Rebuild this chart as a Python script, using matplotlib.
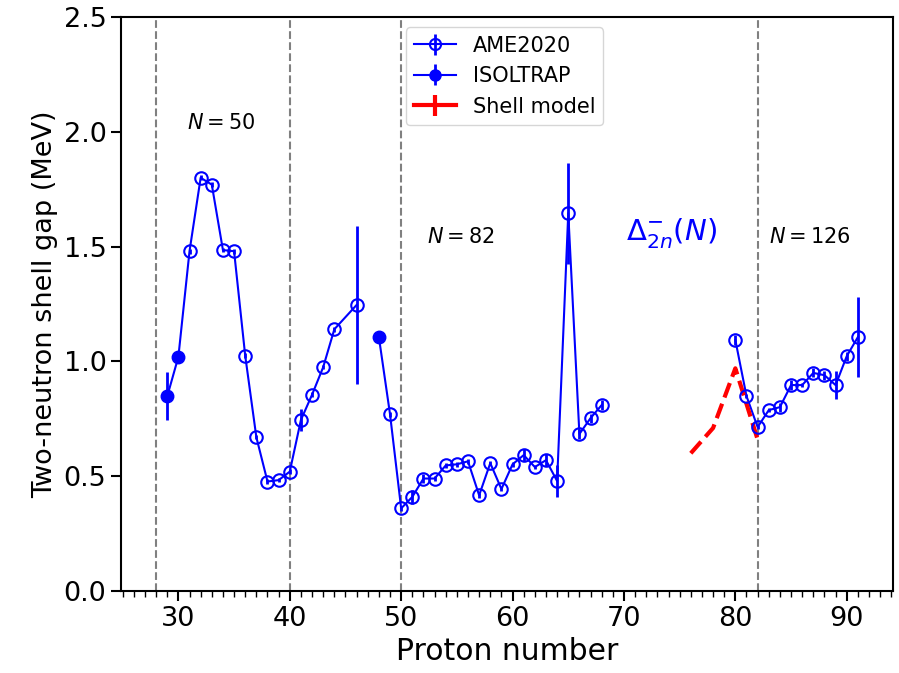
import numpy as np
import matplotlib
matplotlib.use('Agg')
import matplotlib.pyplot as plt
from matplotlib.ticker import MultipleLocator

# AME2020 two-neutron shell gaps
ame_z = [31, 32, 33, 34, 35, 36, 37, 38, 39, 40, 41, 42, 43, 44, 46,
         49, 50, 51, 52, 53, 54, 55, 56, 57, 58, 59, 60, 61, 62, 63, 64, 65, 66, 67, 68,
         80, 81, 82, 83, 84, 85, 86, 87, 88, 89, 90, 91]
ame_gap = [1.48, 1.80, 1.77, 1.485, 1.48, 1.025, 0.67, 0.477, 0.483, 0.52, 0.745, 0.855, 0.975, 1.14, 1.246,
           0.77, 0.36, 0.41, 0.49, 0.49, 0.547, 0.552, 0.565, 0.417, 0.557, 0.444, 0.552, 0.592, 0.54, 0.57, 0.479, 1.646, 0.684, 0.753, 0.81,
           1.093, 0.849, 0.714, 0.788, 0.801, 0.897, 0.897, 0.95, 0.94, 0.897, 1.023, 1.106]
ame_err = [0.01, 0.01, 0.01, 0.01, 0.01, 0.01, 0.01, 0.01, 0.01, 0.01, 0.048, 0.01, 0.01, 0.01, 0.345,
           0.01, 0.01, 0.03, 0.02, 0.01, 0.01, 0.01, 0.01, 0.01, 0.01, 0.01, 0.01, 0.025, 0.01, 0.025, 0.07, 0.22, 0.02, 0.02, 0.02,
           0.02, 0.01, 0.01, 0.01, 0.02, 0.02, 0.01, 0.02, 0.02, 0.06, 0.02, 0.175]

# ISOLTRAP
iso_z = [29, 30, 48]
iso_gap = [0.848, 1.02, 1.106]
iso_err = [0.105, 0.01, 0.005]

# shell model
sm_z = [76, 78, 80, 82]
sm_gap = [0.60, 0.71, 0.97, 0.66]

magic_z = [28, 40, 50, 82]
magic_labels = ['$N=50$', '$N=82$', '$N=126$']
magic_label_pos = [(30.8, 2.04), (52.3, 1.54), (83.0, 1.54)]

fig = plt.figure(figsize=(8.99, 6.73), dpi=100)
ax = fig.add_axes([0.1346, 0.1218, 0.8587, 0.8529])

for z in magic_z:
    ax.axvline(z, color='gray', ls='--', lw=1.5, zorder=1)

# connecting line through both data sets, broken into chains
all_z = np.array(ame_z + iso_z)
all_y = np.array(ame_gap + iso_gap)
order = np.argsort(all_z)
all_z, all_y = all_z[order], all_y[order]
chain = np.digitize(all_z, [47, 75])
for c in np.unique(chain):
    m = chain == c
    ax.plot(all_z[m], all_y[m], color='blue', lw=1.5, zorder=2)

ax.errorbar(ame_z, ame_gap, yerr=ame_err, fmt='o', ls='none', color='blue',
            mfc='none', mec='blue', ms=9, mew=1.5, elinewidth=2, zorder=3)
ax.errorbar(iso_z, iso_gap, yerr=iso_err, fmt='o', ls='none', color='blue',
            ms=9, elinewidth=2, zorder=4)
ax.plot(sm_z, sm_gap, color='red', ls='--', lw=3, zorder=2)

# legend proxies
h1 = ax.errorbar([np.nan], [np.nan], yerr=[np.nan], fmt='o-', color='blue',
                 mfc='none', mec='blue', ms=8, mew=1.5, elinewidth=2, lw=1.5)
h2 = ax.errorbar([np.nan], [np.nan], yerr=[np.nan], fmt='o-', color='blue',
                 ms=8, elinewidth=2, lw=1.5)
h3 = ax.errorbar([np.nan], [np.nan], yerr=[np.nan], fmt='-', color='red',
                 lw=3, elinewidth=3)
ax.legend([h1, h2, h3], ['AME2020', 'ISOLTRAP', 'Shell model'],
          loc='upper center', fontsize=15, bbox_to_anchor=(0.497, 1.0))

for txt, (x, y) in zip(magic_labels, magic_label_pos):
    ax.text(x, y, txt, fontsize=15, va='center', ha='left')
ax.text(70.2, 1.56, r'$\Delta_{2n}^{-}(N)$', color='blue', fontsize=21,
        va='center', ha='left')

ax.set_xlim(24.85, 94.15)
ax.set_ylim(0, 2.5)
ax.xaxis.set_major_locator(MultipleLocator(10))
ax.xaxis.set_minor_locator(MultipleLocator(1))
ax.yaxis.set_major_locator(MultipleLocator(0.5))
ax.tick_params(axis='both', which='major', labelsize=19.5, length=7, width=1.5)
ax.tick_params(axis='x', which='minor', length=4, width=1)
for s in ax.spines.values():
    s.set_linewidth(1.5)
ax.set_xlabel('Proton number', fontsize=21.5)
ax.set_ylabel('Two-neutron shell gap (MeV)', fontsize=19.5)

fig.savefig('out.png', dpi=100)
